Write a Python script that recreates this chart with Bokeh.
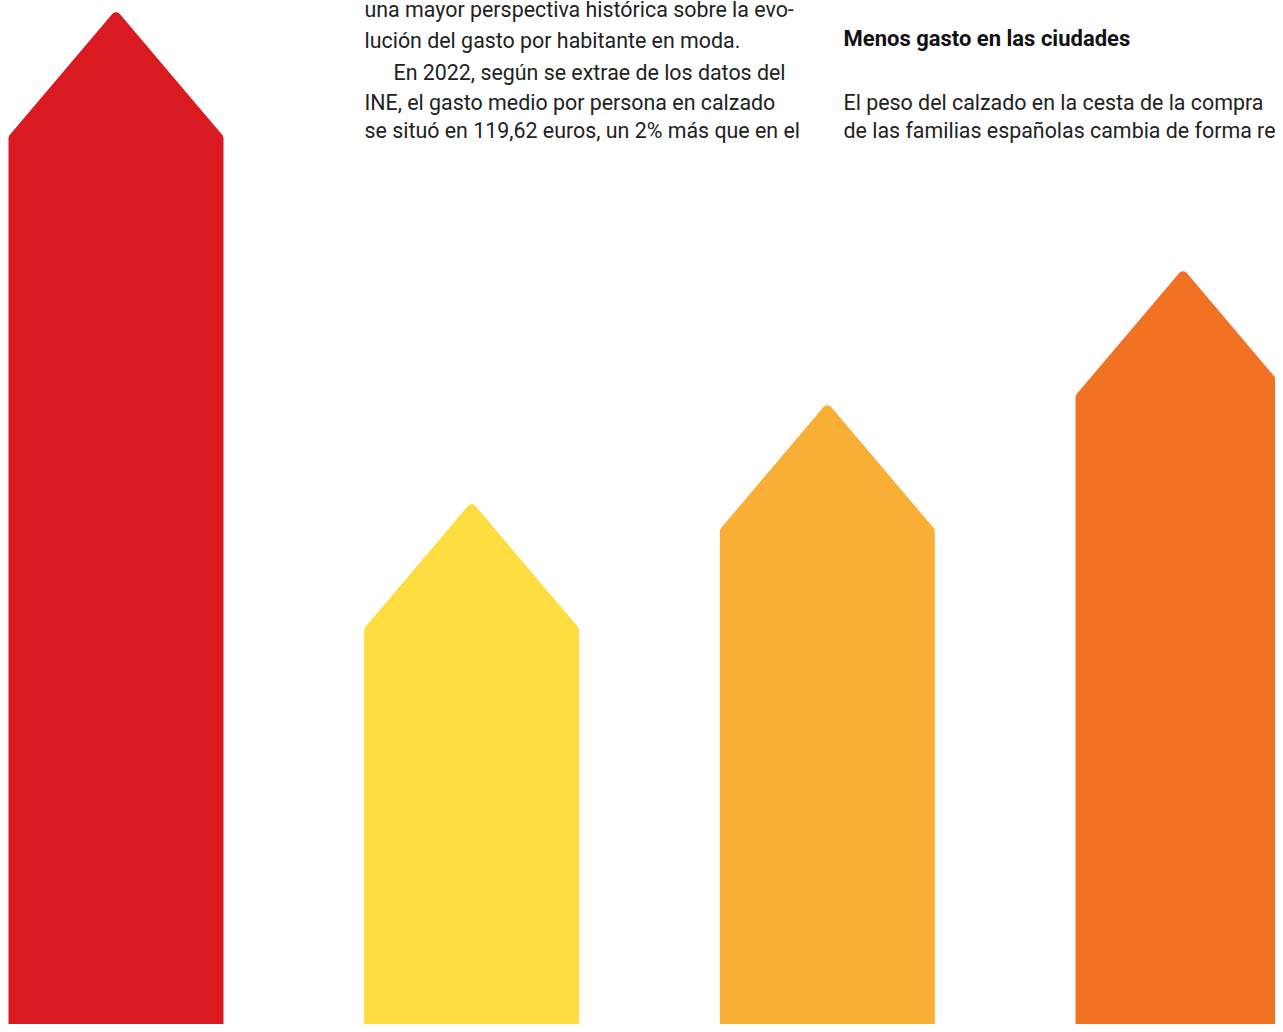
from bokeh.plotting import figure
from bokeh.models import Range1d, ColumnDataSource
from bokeh.core.properties import value
from bokeh.embed import file_html
from bokeh.resources import INLINE

# ---- data ----
categories = ["Grupo 1", "Grupo 2", "Grupo 3", "Grupo 4"]
values = [1021, 529, 628, 762]
colors = ["#d91b21", "#fedd40", "#f9ae36", "#f27224"]

left_text = [
    "una mayor perspectiva histórica sobre la evo-",
    "lución del gasto por habitante en moda.",
    "En 2022, según se extrae de los datos del",
    "INE, el gasto medio por persona en calzado",
    "se situó en 119,62 euros, un 2% más que en el",
]
heading = ["Menos gasto en las ciudades"]
right_text = [
    "El peso del calzado en la cesta de la compra",
    "de las familias españolas cambia de forma re",
]

# ---- layout constants ----
W, H = 1275, 1024
BASE = -6
BAR_W = 215
HEAD_H = 127
FIRST_CX = 115.5
STEP = 355.67
R = 5  # corner rounding


def inset(pts, d):
    n = len(pts)
    lines = []
    for i in range(n):
        x1, y1 = pts[i]
        x2, y2 = pts[(i + 1) % n]
        dx, dy = x2 - x1, y2 - y1
        L = (dx * dx + dy * dy) ** 0.5
        nx, ny = -dy / L, dx / L
        lines.append(((x1 + nx * d, y1 + ny * d), (dx, dy)))
    out = []
    for i in range(n):
        p1, d1 = lines[i - 1]
        p2, d2 = lines[i]
        det = d1[0] * (-d2[1]) - d1[1] * (-d2[0])
        rx, ry = p2[0] - p1[0], p2[1] - p1[1]
        t = (rx * (-d2[1]) - ry * (-d2[0])) / det
        out.append((p1[0] + t * d1[0], p1[1] + t * d1[1]))
    return out


xs, ys = [], []
for i, v in enumerate(values):
    cx = FIRST_CX + i * STEP
    tip = BASE + v
    pts = [
        (cx - BAR_W / 2, BASE),
        (cx + BAR_W / 2, BASE),
        (cx + BAR_W / 2, tip - HEAD_H),
        (cx, tip),
        (cx - BAR_W / 2, tip - HEAD_H),
    ]
    pts = inset(pts, R)
    xs.append([p[0] for p in pts])
    ys.append([p[1] for p in pts])

src = ColumnDataSource(dict(xs=xs, ys=ys, color=colors, cat=categories))

p = figure(width=W, height=H, x_range=Range1d(0, W), y_range=Range1d(0, H),
           output_backend="svg", toolbar_location=None,
           x_axis_type=None, y_axis_type=None, min_border=0)
p.grid.visible = False
p.outline_line_color = None
p.background_fill_color = "white"
p.border_fill_color = "white"

p.patches("xs", "ys", source=src, fill_color="color", line_color="color",
          line_width=2 * R, line_join="round")

FONT = value("Roboto")
TXT_COL = "#222222"

# left column text
lx = [364, 364, 393, 364, 364]
ly = [1015, 984, 952, 922, 894]
p.text(x=lx, y=ly, text=left_text, text_font=FONT, text_font_size="21.4px",
       text_color=TXT_COL, text_baseline="alphabetic", text_align="left")

# right column
p.text(x=[843], y=[986], text=heading, text_font=FONT, text_font_size="22px",
       text_font_style="bold", text_color="#111111",
       text_baseline="alphabetic", text_align="left")
p.text(x=[843, 843], y=[922, 894], text=right_text, text_font=FONT,
       text_font_size="21.4px", text_color=TXT_COL,
       text_baseline="alphabetic", text_align="left")

open("out.html", "w").write(file_html(p, INLINE))
